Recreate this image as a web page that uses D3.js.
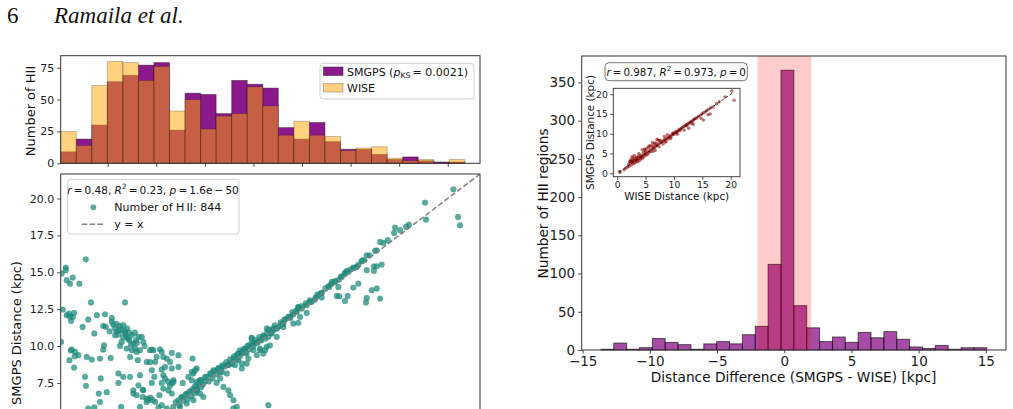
<!DOCTYPE html>
<html lang="en">
<head>
<meta charset="UTF-8">
<title>SMGPS vs WISE distances</title>
<script src="https://cdn.jsdelivr.net/npm/d3@7"></script>
<style>
  body, html { margin:0; background:#fff; font-family:"DejaVu Sans", sans-serif; }
  svg { display:block; }
</style>
</head>
<body>
<svg width="1013" height="409"></svg>
<script>
// --- data ---
const smgpsCounts=[9,19,30,64,69,77,79,26,55,54,39,65,62,59,28,19,32,17,11,11,7,3,5,2,1,1];
const wiseCounts =[25,14,61,80,79,65,76,41,50,27,37,39,60,45,22,33,22,21,10,12,13,4,2,3,0,3];
const distBinStart=0.08, distBinWidth=0.8;
const diffCounts=[1,9,1,3,15,10,7,1,8,11,8,20,31,112,366,58,29,11,17,10,23,16,24,14,4,2,6,1,3,3];
const diffBinStart=-13.64, diffBinWidth=0.957;
const diffSpan=[-2,2];
const histTicks=[0,25,50,75];
const distTicks=[2.5,5,7.5,10,12.5,15,17.5,20];
const scatTicks=[5,7.5,10,12.5,15,17.5,20];
const diffXTicks=[-15,-10,-5,0,5,10,15];
const diffYTicks=[0,50,100,150,200,250,300,350];
const insetTicks=[0,5,10,15,20];

// SMGPS distance vs WISE distance (visible part of the panel)
const scatterPts=[
[20.29,20.62],[18.83,19.72],[18.88,18.57],[20.53,18.75],[20.63,18.18],[18.0,18.23],[17.86,18.07],[17.29,18.03],[17.55,17.85],[17.24,17.66],
[16.91,17.17],[16.69,16.99],[16.52,17.05],[16.35,16.49],[16.26,16.44],[15.97,16.15],[15.83,16.15],[15.71,15.81],[15.57,15.74],[15.32,15.36],
[15.14,15.32],[14.88,15.02],[14.71,14.95],[14.54,14.68],[16.2,15.4],[16.35,15.4],[16.6,15.52],[16.2,15.09],[15.83,15.14],[16.52,13.22],
[16.35,13.9],[16.09,13.78],[15.83,13.26],[15.79,12.95],[15.4,14.23],[15.14,13.96],[14.85,13.39],[14.71,13.06],[14.37,14.0],[14.29,13.39],
[14.42,13.37],[14.2,14.34],[14.03,14.34],[13.85,14.05],[13.51,13.6],[13.34,13.44],[13.51,13.29],[13.17,13.15],[12.91,12.99],[12.74,12.76],
[12.49,12.54],[12.31,12.65],[12.23,12.31],[12.05,12.15],[12.31,11.57],[12.05,11.52],[12.74,12.24],[12.4,11.97],[11.88,11.97],[11.63,11.8],
[11.54,11.52],[11.37,11.36],[11.2,11.19],[11.02,11.07],[10.94,10.85],[10.69,11.19],[10.77,10.62],[10.51,10.66],[10.34,10.39],[10.17,10.28],
[10.0,10.17],[9.91,10.51],[9.74,10.05],[9.57,9.83],[9.4,9.6],[9.65,9.49],[10.0,9.72],[10.34,9.83],[10.6,9.72],[10.17,9.38],
[9.14,9.38],[8.97,9.15],[9.22,9.04],[9.4,8.81],[8.8,8.81],[8.63,8.7],[8.37,8.58],[8.19,8.48],[7.94,8.36],[7.77,8.14],
[8.37,8.25],[8.63,8.14],[8.28,7.8],[8.11,7.5],[8.45,7.23],[8.71,7.0],[8.8,6.67],[8.97,6.33],[9.14,5.87],[10.77,5.99],
[7.51,7.91],[7.25,7.68],[7.08,7.57],[6.91,8.14],[6.82,8.25],[7.08,7.23],[7.25,6.78],[7.42,6.55],[7.08,7.0],[6.82,7.0],
[6.57,6.78],[6.31,6.55],[6.14,6.33],[6.57,6.1],[6.91,6.33],[5.88,5.87],[5.54,5.77],[5.11,5.84],[5.28,5.99],[6.22,5.87],[8.97,5.77],
[9.74,9.15],[9.65,8.81],[9.4,8.48],[9.05,8.7],[10.68,9.94],[10.85,10.05],[10.34,9.72],[10.51,9.49],[11.2,10.62],[11.54,11.29],[9.91,10.57],
[6.0,6.2],[6.2,6.0],[6.3,6.5],[6.4,6.3],[6.5,6.7],[6.6,6.4],[6.7,6.9],[6.8,6.6],[6.9,7.1],[7.0,6.8],[7.0,7.3],[7.1,7.0],[7.2,7.5],[7.3,7.2],
[7.3,7.7],[7.4,7.4],[7.5,7.6],[7.6,7.9],[7.7,7.6],[7.8,8.1],[7.9,7.8],[8.0,8.3],[8.1,8.1],[8.2,8.5],[8.3,8.2],[8.4,8.7],[8.5,8.6],[8.6,8.9],
[8.7,8.7],[8.8,9.1],[8.9,8.8],[9.0,9.3],[9.1,9.1],[9.2,9.5],[9.3,9.3],[9.3,9.7],[9.4,9.5],[9.5,9.8],[9.6,9.6],[9.7,10.0],[9.8,9.8],[9.9,10.2],
[10.0,10.0],[10.1,10.4],[10.2,10.2],[10.3,10.6],[10.4,10.4],[10.5,10.7],[10.6,10.5],[10.7,10.9],[10.8,11.1],[10.9,10.9],[11.0,11.2],[11.1,11.4],
[11.2,11.2],[11.4,11.6],[11.5,11.5],[11.6,11.8],[11.8,12.0],[11.9,11.9],[12.0,12.3],[12.2,12.4],[12.3,12.6],[12.5,12.7],[12.7,12.9],[12.9,13.1],
[13.0,13.0],[13.2,13.3],[13.3,13.5],[13.5,13.6],[13.7,13.9],[13.9,14.0],[14.0,14.2],[14.2,14.4],[14.4,14.5],[14.5,14.7],[14.7,14.9],[14.8,15.1],
[15.0,15.2],[15.2,15.3],[15.4,15.5],[15.6,15.8],
[0.13,14.91],[0.34,15.32],[0.34,15.14],[0.39,14.46],[0.56,14.23],[0.7,14.64],[1.04,14.23],[1.37,15.88],[0.19,12.47],[0.1,10.28],
[0.39,12.09],[0.51,12.2],[0.61,11.7],[0.7,11.97],[0.77,12.24],[0.55,12.0],[1.21,11.29],[1.64,12.95],[1.5,11.8],[1.81,10.85],
[1.94,12.09],[2.36,12.15],[0.53,9.04],[0.65,9.76],[0.77,8.54],[0.82,9.6],[0.99,9.38],[1.33,7.91],[1.38,7.3],[1.42,9.26],
[1.68,9.08],[2.1,9.15],[2.27,9.76],[2.31,10.05],[1.5,5.77],[1.81,5.84],[2.04,6.78],[2.14,7.8],[2.1,6.21],[2.45,6.87],
[2.65,9.19],[3.05,8.14],[3.05,7.5],[3.19,5.87],[0.8,9.3],[0.6,9.7],
[2.27,11.36],[2.4,11.3],[2.71,11.9],[2.71,11.64],[2.79,11.46],[2.88,11.19],[2.96,10.96],[2.88,10.73],[3.05,10.78],[3.13,11.34],
[3.3,11.41],[3.39,12.95],[3.22,11.07],[3.39,10.85],[3.48,10.62],[3.61,10.39],[3.74,10.73],[3.82,10.17],[3.96,10.39],[4.08,10.62],
[4.25,10.62],[3.91,9.83],[3.74,9.72],[3.99,9.6],[4.16,9.72],[3.65,9.26],[3.48,9.83],[3.13,10.01],[3.22,10.28],[4.05,9.04],
[4.51,8.92],[4.33,10.28],[4.68,9.72],[4.77,9.76],[4.85,9.72],[5.19,9.78],[5.28,9.6],[5.02,9.26],[5.36,9.26],[4.94,8.92],
[5.54,9.15],[5.71,8.92],[5.8,9.53],[6.14,9.38],[5.8,8.48],[6.14,8.58],[5.28,8.41],[5.45,8.58],[4.9,7.91],[4.77,7.5],
[5.28,7.5],[5.6,7.6],[5.7,7.3],[5.8,6.78],[5.62,7.0],[5.8,7.46],[5.88,7.68],[6.36,7.5],[4.33,7.0],[4.51,6.44],
[4.59,6.33],[4.94,6.21],[5.16,6.67],[5.36,7.12],[3.82,7.0],[4.08,7.34],[3.65,7.91],[3.3,7.91],[4.16,8.02],[4.68,8.9],
[4.77,8.36],[4.16,5.87],[3.82,6.78],[3.99,6.67],[4.3,7.05],[4.3,6.55],[4.5,6.2],[4.7,6.5],[4.8,6.35],[5.36,8.02],
[5.45,7.8],[5.88,7.57],[6.87,9.15],[7.08,8.48],[7.0,8.36],[6.65,7.91],[6.82,7.68],[3.4,11.0],[3.5,11.2],[3.6,10.9],
[3.3,10.6],[3.9,10.9],[4.0,10.2],[4.4,10.0],[3.7,10.1],[3.55,10.5],[2.96,11.5],[3.1,11.1],[2.6,11.0]
];

// inset: SMGPS vs WISE distance
const insetPts=[
[0.4,0.4],[0.5,0.3],[1.2,0.9],[1.5,1.3],[1.8,1.6],[2.0,2.3],[2.1,1.8],[2.2,3.0],[2.3,2.6],[2.4,3.5],[2.5,2.1],[2.6,3.2],[2.7,2.8],[2.8,3.9],
[2.9,2.4],[3.0,3.3],[3.1,2.7],[3.2,3.8],[3.3,3.0],[3.4,4.1],[3.5,3.4],[3.6,2.9],[3.7,3.7],[3.8,4.4],[3.9,3.2],[4.0,4.0],[4.1,3.6],[4.2,4.6],
[4.3,4.2],[4.4,3.7],[4.5,4.5],[4.6,5.3],[4.7,4.1],[4.8,4.8],[4.9,5.9],[5.0,4.6],[5.1,5.1],[5.2,6.3],[5.3,4.7],[5.4,5.4],[5.5,6.6],[5.6,5.2],
[5.7,5.8],[5.8,6.9],[5.9,5.5],[6.0,6.0],[6.1,7.0],[6.2,6.2],[6.3,5.6],[6.4,6.6],[6.5,7.3],[6.6,6.4],[6.7,5.8],[6.8,6.9],[6.9,7.6],[7.0,7.0],
[7.2,7.3],[7.4,6.7],[7.5,7.6],[7.6,8.3],[7.8,7.8],[8.0,8.1],[8.1,7.4],[8.2,8.3],[8.4,8.6],[8.5,8.0],[8.7,8.8],[8.9,9.1],[9.0,8.7],[9.2,9.3],
[9.4,9.6],[9.5,9.2],[9.7,9.8],[9.9,10.1],[10.0,9.8],[10.2,10.3],[10.3,10.6],[10.5,10.4],[10.7,10.8],[10.9,11.1],[11.0,10.8],[11.2,11.3],
[11.4,11.5],[11.6,11.7],[11.8,11.9],[12.0,12.1],[12.2,12.3],[12.4,12.5],[12.6,12.7],[12.8,12.8],[13.0,13.1],[13.2,13.2],[13.4,13.5],[13.6,13.7],
[13.8,13.9],[14.0,14.0],[14.3,14.4],[14.6,14.6],[14.9,15.0],[15.2,15.3],[15.5,15.5],[15.8,15.9],[16.1,16.2],[16.5,16.6],[16.9,16.8],[17.5,17.6],
[18.0,18.1],[19.0,19.3],[20.2,20.8],[20.6,18.5],[11.8,10.9],[12.6,11.4],[13.4,12.4],[14.8,13.9],[15.2,13.5],[16.0,14.8],[16.4,15.0],[13.2,12.6],
[10.6,9.9],[9.4,8.8],[8.6,8.0],[8.8,9.8],[7.4,8.3],[7.0,8.6],[6.2,7.8],[5.6,6.9],[4.8,6.1],[3.8,5.0],[3.0,4.5],[2.6,4.2],[4.4,6.0],[5.0,5.5],
[2.3,3.1],[2.5,2.9],[2.8,3.4],[3.2,3.4],[3.6,4.0],[4.2,4.1],[6.6,7.7],[7.2,8.4],[8.3,9.3],[9.8,10.2],[10.4,10.3],[11.1,11.0],[12.3,12.0]
];

const svg=d3.select('svg');
const FONT='"DejaVu Sans", sans-serif';
const AX='#333';

// header
svg.append('text').attr('x',7).attr('y',23).attr('font-family','"Liberation Serif", serif')
  .attr('font-size',23).attr('fill','#111').text('6');
svg.append('text').attr('x',54).attr('y',23).attr('font-family','"Liberation Serif", serif')
  .attr('font-style','italic').attr('font-size',23).attr('fill','#111').text('Ramaila et al.');

function styleAxis(g,size){
  g.select('.domain').remove();
  g.selectAll('line').attr('stroke',AX).attr('stroke-width',0.9);
  g.selectAll('text').attr('font-family',FONT).attr('font-size',size).attr('fill','#222');
}
// rich text helper: parts = [text, opts]
function rich(t,parts,size){
  parts.forEach(p=>{
    const [s,o={}]=p;
    const ts=t.append('tspan').text(s);
    if(o.it) ts.attr('font-style','italic');
    if(o.sup) ts.attr('font-size',size*0.7).attr('dy',-size*0.4);
    if(o.sub) ts.attr('font-size',size*0.7).attr('dy',size*0.25);
    if(o.back) ts.attr('dy',o.back);
  });
  return t;
}

// ---------- top-left histogram ----------
const xS=d3.scaleLinear([0.08,21.66],[60.7,480]);
const yH=d3.scaleLinear([0,84.4],[163.3,55.7]);
const bins=smgpsCounts.map((c,i)=>({x0:distBinStart+i*distBinWidth,x1:distBinStart+(i+1)*distBinWidth,s:c,w:wiseCounts[i]}));
const gH=svg.append('g');
gH.selectAll('rect.s').data(bins).join('rect').attr('class','s')
  .attr('x',d=>xS(d.x0)).attr('width',d=>xS(d.x1)-xS(d.x0))
  .attr('y',d=>yH(d.s)).attr('height',d=>yH(0)-yH(d.s))
  .attr('fill','purple').attr('fill-opacity',0.9).attr('stroke','#000').attr('stroke-opacity',0.4).attr('stroke-width',0.9);
gH.selectAll('rect.w').data(bins).join('rect').attr('class','w')
  .attr('x',d=>xS(d.x0)).attr('width',d=>xS(d.x1)-xS(d.x0))
  .attr('y',d=>yH(d.w)).attr('height',d=>yH(0)-yH(d.w))
  .attr('fill','orange').attr('fill-opacity',0.5).attr('stroke','#000').attr('stroke-opacity',0.25).attr('stroke-width',0.9);
gH.append('rect').attr('x',60.7).attr('y',55.7).attr('width',419.3).attr('height',107.6)
  .attr('fill','none').attr('stroke',AX).attr('stroke-width',1);
styleAxis(gH.append('g').attr('transform','translate(60.7,0)')
  .call(d3.axisLeft(yH).tickValues(histTicks).tickSize(3.5).tickPadding(3)),11);
styleAxis(gH.append('g').attr('transform','translate(0,163.3)')
  .call(d3.axisBottom(xS).tickValues(distTicks).tickFormat('').tickSize(3.5)),11);
svg.append('text').attr('transform','translate(35,111) rotate(-90)').attr('text-anchor','middle')
  .attr('font-family',FONT).attr('font-size',13).attr('fill','#111').text('Number of HII');

// legend
const lg=svg.append('g');
lg.append('rect').attr('x',320).attr('y',63.3).attr('width',154).attr('height',35.7).attr('rx',3)
  .attr('fill','#fff').attr('fill-opacity',0.8).attr('stroke','#d0d0d0');
lg.append('rect').attr('x',323.5).attr('y',67).attr('width',19.5).attr('height',8.5)
  .attr('fill','purple').attr('fill-opacity',0.9).attr('stroke','#000').attr('stroke-opacity',0.4);
lg.append('rect').attr('x',323.5).attr('y',83.5).attr('width',19.5).attr('height',8.5)
  .attr('fill','orange').attr('fill-opacity',0.5).attr('stroke','#000').attr('stroke-opacity',0.25);
rich(lg.append('text').attr('x',347).attr('y',75.5).attr('font-family',FONT).attr('font-size',11).attr('fill','#111'),
  [['SMGPS ('],['p',{it:true}],['KS',{sub:true}],['\u2009= 0.0021)',{back:-11*0.25}]],11);
lg.append('text').attr('x',347).attr('y',92).attr('font-family',FONT).attr('font-size',11).attr('fill','#111').text('WISE');

// ---------- scatter ----------
const yS=d3.scaleLinear([0.08,21.66],[492.4,174]);
svg.append('clipPath').attr('id','clipS').append('rect').attr('x',60.7).attr('y',174).attr('width',419.3).attr('height',318.4);
const gS=svg.append('g');
const gSp=gS.append('g').attr('clip-path','url(#clipS)');
gSp.selectAll('circle').data(scatterPts).join('circle')
  .attr('cx',d=>xS(d[0])).attr('cy',d=>yS(d[1])).attr('r',2.9)
  .attr('fill','#1f9080').attr('fill-opacity',0.75).attr('stroke','#145c52').attr('stroke-opacity',0.35).attr('stroke-width',0.5);
gSp.append('line').attr('x1',xS(0.08)).attr('y1',yS(0.08)).attr('x2',xS(21.66)).attr('y2',yS(21.66))
  .attr('stroke','#808080').attr('stroke-width',1.5).attr('stroke-dasharray','5.5,2.4');
gS.append('rect').attr('x',60.7).attr('y',174).attr('width',419.3).attr('height',318.4)
  .attr('fill','none').attr('stroke',AX).attr('stroke-width',1);
styleAxis(gS.append('g').attr('transform','translate(60.7,0)')
  .call(d3.axisLeft(yS).tickValues(scatTicks).tickFormat(d3.format('.1f')).tickSize(3.5).tickPadding(3)),11);
svg.append('text').attr('transform','translate(21,333) rotate(-90)').attr('text-anchor','middle')
  .attr('font-family',FONT).attr('font-size',13).attr('fill','#111').text('SMGPS Distance (kpc)');

const sl=svg.append('g');
sl.append('rect').attr('x',67.7).attr('y',179.3).attr('width',171.3).attr('height',54.7).attr('rx',3)
  .attr('fill','#fff').attr('fill-opacity',0.8).attr('stroke','#d0d0d0');
rich(sl.append('text').attr('x',153).attr('y',193.5).attr('text-anchor','middle').attr('font-family',FONT).attr('font-size',10.5).attr('fill','#111'),
  [['r',{it:true}],['\u2009=\u20090.48, '],['R',{it:true}],['2',{sup:true}],['\u2009=\u20090.23, ',{back:10.5*0.4}],['p',{it:true}],['\u2009=\u20091.6e\u2009\u2212\u200950']],10.5);
sl.append('circle').attr('cx',93.3).attr('cy',207.3).attr('r',2.9).attr('fill','#1f9080').attr('fill-opacity',0.75);
sl.append('text').attr('x',114.3).attr('y',211).attr('font-family',FONT).attr('font-size',11).attr('fill','#111').text('Number of H\u2009II: 844');
sl.append('line').attr('x1',81.7).attr('x2',103.5).attr('y1',224.3).attr('y2',224.3)
  .attr('stroke','#808080').attr('stroke-width',1.5).attr('stroke-dasharray','5.5,2.4');
sl.append('text').attr('x',114.3).attr('y',228).attr('font-family',FONT).attr('font-size',11).attr('fill','#111').text('y = x');

// ---------- right histogram ----------
const xR=d3.scaleLinear([-15.07,16.5],[581.7,1006]);
const yR=d3.scaleLinear([0,384.6],[350,56]);
const dbins=diffCounts.map((c,i)=>({x0:diffBinStart+i*diffBinWidth,x1:diffBinStart+(i+1)*diffBinWidth,c}));
const gR=svg.append('g');
gR.selectAll('rect.b').data(dbins).join('rect').attr('class','b')
  .attr('x',d=>xR(d.x0)).attr('width',d=>xR(d.x1)-xR(d.x0))
  .attr('y',d=>yR(d.c)).attr('height',d=>yR(0)-yR(d.c))
  .attr('fill','purple').attr('fill-opacity',0.7).attr('stroke','#000').attr('stroke-opacity',0.6).attr('stroke-width',1);
gR.append('rect').attr('x',xR(diffSpan[0])).attr('width',xR(diffSpan[1])-xR(diffSpan[0]))
  .attr('y',56).attr('height',294).attr('fill','red').attr('fill-opacity',0.2);
gR.append('rect').attr('x',581.7).attr('y',56).attr('width',424.3).attr('height',294)
  .attr('fill','none').attr('stroke',AX).attr('stroke-width',1);
styleAxis(gR.append('g').attr('transform','translate(581.7,0)')
  .call(d3.axisLeft(yR).tickValues(diffYTicks).tickSize(3.5).tickPadding(3)),13.5);
styleAxis(gR.append('g').attr('transform','translate(0,350)')
  .call(d3.axisBottom(xR).tickValues(diffXTicks).tickSize(3.5).tickPadding(3)),13.5);
svg.append('text').attr('transform','translate(548,203.5) rotate(-90)').attr('text-anchor','middle')
  .attr('font-family',FONT).attr('font-size',13.7).attr('fill','#111').text('Number of HII regions');
svg.append('text').attr('x',793.5).attr('y',382).attr('text-anchor','middle')
  .attr('font-family',FONT).attr('font-size',13.7).attr('fill','#111').text('Distance Difference (SMGPS - WISE) [kpc]');

// ---------- inset ----------
const xI=d3.scaleLinear([-0.7,21.65],[613.3,740]);
const yI=d3.scaleLinear([-0.85,21.5],[176.7,88.3]);
const gI=svg.append('g');
gI.append('rect').attr('x',613.3).attr('y',88.3).attr('width',126.7).attr('height',88.4).attr('fill','#fff');
gI.selectAll('circle').data(insetPts).join('circle')
  .attr('cx',d=>xI(d[0])).attr('cy',d=>yI(d[1])).attr('r',1.7)
  .attr('fill','darkred').attr('fill-opacity',0.55);
gI.append('line').attr('x1',xI(0.3)).attr('y1',yI(0.3)).attr('x2',xI(20.6)).attr('y2',yI(20.6))
  .attr('stroke','#000').attr('stroke-width',0.8).attr('stroke-dasharray','3,2');
gI.append('rect').attr('x',613.3).attr('y',88.3).attr('width',126.7).attr('height',88.4)
  .attr('fill','none').attr('stroke',AX).attr('stroke-width',0.9);
styleAxis(gI.append('g').attr('transform','translate(613.3,0)')
  .call(d3.axisLeft(yI).tickValues(insetTicks).tickSize(3).tickPadding(2.5)),9.2);
styleAxis(gI.append('g').attr('transform','translate(0,176.7)')
  .call(d3.axisBottom(xI).tickValues(insetTicks).tickSize(3).tickPadding(2)),9.2);
svg.append('text').attr('x',676.7).attr('y',200).attr('text-anchor','middle')
  .attr('font-family',FONT).attr('font-size',10.4).attr('fill','#111').text('WISE Distance (kpc)');
svg.append('text').attr('transform','translate(594,132.5) rotate(-90)').attr('text-anchor','middle')
  .attr('font-family',FONT).attr('font-size',10.4).attr('fill','#111').text('SMGPS Distance (kpc)');
svg.append('rect').attr('x',605).attr('y',62.7).attr('width',142.3).attr('height',18).attr('rx',4)
  .attr('fill','#fff').attr('stroke','#666').attr('stroke-width',0.9);
rich(svg.append('text').attr('x',676.2).attr('y',75.5).attr('text-anchor','middle').attr('font-family',FONT).attr('font-size',10.3).attr('fill','#111'),
  [['r',{it:true}],['\u2009=\u20090.987,  '],['R',{it:true}],['2',{sup:true}],['\u2009=\u20090.973,  ',{back:10.3*0.4}],['p',{it:true}],['\u2009=\u20090']],10.3);
</script>
</body>
</html>
